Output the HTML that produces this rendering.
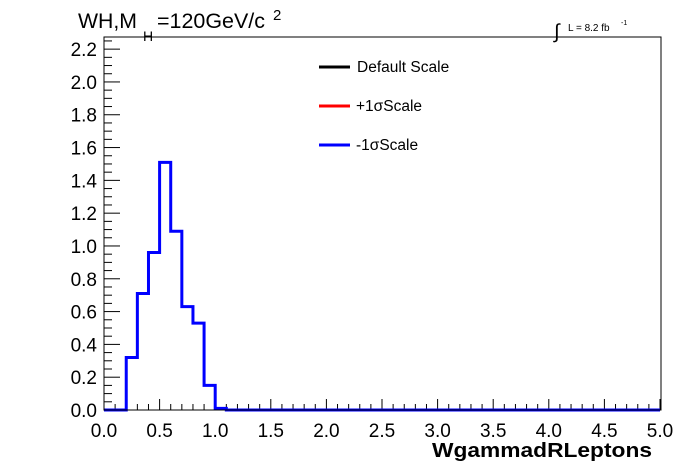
<!DOCTYPE html>
<html><head><meta charset="utf-8">
<style>
html,body{margin:0;padding:0;background:#fff;}
svg{display:block;font-family:"Liberation Sans",sans-serif;}
</style></head>
<body>
<svg id="chart" width="696" height="472" viewBox="0 0 696 472">
  <rect x="0" y="0" width="696" height="472" fill="#fff"/>
  <g id="ticks"></g>
  <g id="labels"></g>
  <path id="hist" fill="none" stroke="#0000ff" stroke-width="3"/>
  <rect x="104" y="37" width="557" height="373" fill="none" stroke="#000" stroke-width="1"/>
  <text x="78" y="28" font-size="21" textLength="59" lengthAdjust="spacingAndGlyphs">WH,M</text>
  <text x="143" y="41" font-size="14">H</text>
  <text x="157" y="28" font-size="21" textLength="108" lengthAdjust="spacingAndGlyphs">=120GeV/c</text>
  <text x="273" y="20" font-size="15">2</text>
  <text x="554" y="38" font-size="20">∫</text>
  <text x="568" y="31" font-size="10">L = 8.2 fb</text>
  <text x="621" y="25" font-size="7">-1</text>
  <g>
    <line x1="319" y1="67" x2="350" y2="67" stroke="#000" stroke-width="3"/>
    <text x="357" y="72" font-size="15.5">Default Scale</text>
    <line x1="319" y1="106" x2="350" y2="106" stroke="#ff0000" stroke-width="3"/>
    <text x="356" y="111" font-size="15.5">+1σScale</text>
    <line x1="319" y1="145" x2="350" y2="145" stroke="#0000ff" stroke-width="3"/>
    <text x="356" y="150" font-size="15.5">-1σScale</text>
  </g>
  <text x="432" y="457" font-size="20" font-weight="bold" textLength="220" lengthAdjust="spacingAndGlyphs">WgammadRLeptons</text>
</svg>
<script>
const binEdgesStart = 0.0;
const binWidth = 0.1;
const binValues = [0,0,0.32,0.71,0.96,1.51,1.09,0.63,0.53,0.15,0.01,0,0,0,0,0,0,0,0,0,0,0,0,0,0,0,0,0,0,0,0,0,0,0,0,0,0,0,0,0,0,0,0,0,0,0,0,0,0,0];
const xTickLabels = ["0.0","0.5","1.0","1.5","2.0","2.5","3.0","3.5","4.0","4.5","5.0"];
const yTickLabels = ["0.0","0.2","0.4","0.6","0.8","1.0","1.2","1.4","1.6","1.8","2.0","2.2"];

const X0=104, X1=661, Y0=410, Y1=37;
const xmin=0, xmax=5.009, ymin=0, ymax=2.274;
function xs(v){return X0+(v-xmin)/(xmax-xmin)*(X1-X0);}
function ys(v){return Y0-(v-ymin)/(ymax-ymin)*(Y0-Y1);}
const NS="http://www.w3.org/2000/svg";

let d="M"+xs(binEdgesStart)+","+ys(binValues[0]);
binValues.forEach((v,i)=>{
  const a=binEdgesStart+i*binWidth, b=a+binWidth;
  d+=" L"+xs(a)+","+ys(v)+" L"+xs(b)+","+ys(v);
});
document.getElementById('hist').setAttribute('d',d);

const tg=document.getElementById('ticks'), lg=document.getElementById('labels');
function line(x1,y1,x2,y2,name){
  const l=document.createElementNS(NS,'line');
  l.setAttribute('x1',x1);l.setAttribute('y1',y1);l.setAttribute('x2',x2);l.setAttribute('y2',y2);
  l.setAttribute('stroke','#000');l.setAttribute('stroke-width','1');
  
  
  tg.appendChild(l);
}
for(let i=0;i<=50;i++){
  const v=i*0.1, x=xs(v), len=(i%5===0)?11:6;
  line(x,Y0,x,Y0-len,'x-tick');
}
for(let i=0;i<=45;i++){
  const v=i*0.05, y=ys(v), len=(i%4===0)?16:8;
  line(X0,y,X0+len,y,'y-tick');
}
xTickLabels.forEach(s=>{
  const t=document.createElementNS(NS,'text');
  t.setAttribute('x',xs(parseFloat(s)));t.setAttribute('y',437);
  t.setAttribute('font-size','19');t.setAttribute('text-anchor','middle');
  t.textContent=s;
  
  
  lg.appendChild(t);
});
yTickLabels.forEach(s=>{
  const t=document.createElementNS(NS,'text');
  t.setAttribute('x',97);t.setAttribute('y',ys(parseFloat(s))+7);
  t.setAttribute('font-size','19');t.setAttribute('text-anchor','end');
  t.textContent=s;
  
  
  lg.appendChild(t);
});
</script>
</body></html>
